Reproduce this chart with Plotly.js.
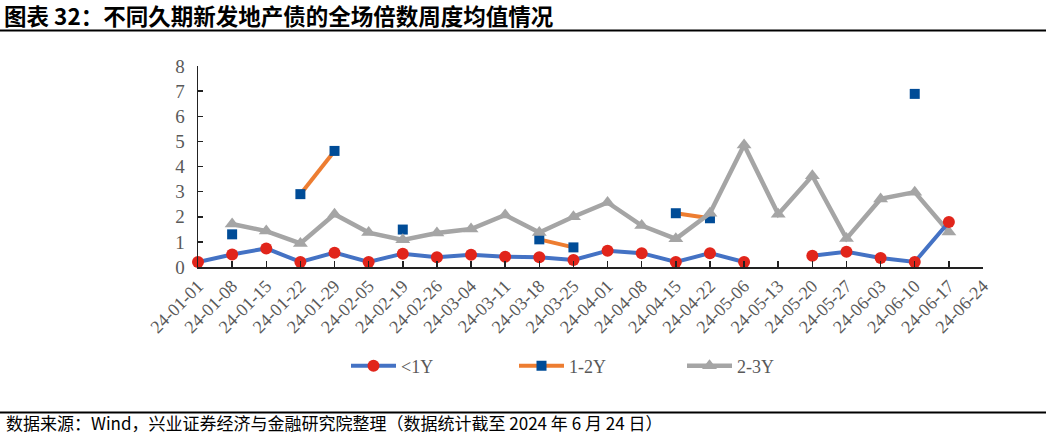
<!DOCTYPE html>
<html>
<head>
<meta charset="utf-8">
<script src="https://cdn.plot.ly/plotly-3.0.1.min.js"></script>
<style>
  html, body { margin: 0; padding: 0; background: #fff; }
  #chart { width: 1046px; height: 435px; }
</style>
</head>
<body>
<div id="chart"></div>
<script>
// weeks on the x axis
var weeks = ['24-01-01', '24-01-08', '24-01-15', '24-01-22', '24-01-29', '24-02-05',
  '24-02-19', '24-02-26', '24-03-04', '24-03-11', '24-03-18', '24-03-25',
  '24-04-01', '24-04-08', '24-04-15', '24-04-22', '24-05-06', '24-05-13',
  '24-05-20', '24-05-27', '24-06-03', '24-06-10', '24-06-17', '24-06-24']

// <1Y
var under1y = [0.20, 0.50, 0.74, 0.20, 0.57, 0.20, 0.53, 0.39, 0.49, 0.41, 0.39, 0.28,
  0.65, 0.55, 0.20, 0.55, 0.20, null, 0.45, 0.61, 0.36, 0.20, 1.79, null]

// 1-2Y
var y1to2 = [null, 1.30, null, 2.90, 4.62, null, 1.49, null, null, null, 1.10, 0.78,
  null, null, 2.14, 1.94, null, null, null, null, null, 6.89, null, null]

// 2-3Y
var y2to3 = [null, 1.71, 1.43, 0.94, 2.10, 1.37, 1.08, 1.35, 1.51, 2.07, 1.37, 2.00,
  2.57, 1.65, 1.12, 2.14, 4.86, 2.10, 3.63, 1.13, 2.71, 2.98, 1.39, null]

var title_text = '图表 32：不同久期新发地产债的全场倍数周度均值情况'
var source_text = '数据来源：Wind，兴业证券经济与金融研究院整理（数据统计截至 2024 年 6 月 24 日）'

var W = 1046, H = 435
var M = {l: 198, r: 63, t: 66, b: 168}

// pixel -> paper helpers for the decorations outside the plot
function px(x) { return (x - M.l) / (W - M.l - M.r) }
function py(y) { return 1 - (y - M.t) / (H - M.t - M.b) }

var serif = 'Liberation Serif, Times New Roman, serif'
var cjk = 'Noto Sans CJK SC, sans-serif'

var data = [
  {
    name: '1-2Y', x: weeks, y: y1to2, type: 'scatter', mode: 'lines+markers',
    line: {color: '#ED7D31', width: 4},
    marker: {symbol: 'square', size: 10, color: '#004C97'},
    cliponaxis: false, legendrank: 2
  },
  {
    name: '2-3Y', x: weeks, y: y2to3, type: 'scatter', mode: 'lines+markers',
    line: {color: '#A5A5A5', width: 4.5},
    marker: {symbol: 'triangle-up', size: 13, color: '#A5A5A5'},
    cliponaxis: false, legendrank: 3
  },
  {
    name: '<1Y', x: weeks, y: under1y, type: 'scatter', mode: 'lines+markers',
    line: {color: '#4472C4', width: 4},
    marker: {symbol: 'circle', size: 12, color: '#E1251B'},
    cliponaxis: false, legendrank: 1
  }
]

var layout = {
  width: W, height: H,
  margin: M,
  paper_bgcolor: '#fff', plot_bgcolor: '#fff',
  title: {
    text: '<b>' + title_text + '</b>',
    xref: 'container', yref: 'container',
    x: 4 / W, y: 1 - 17 / H, xanchor: 'left', yanchor: 'middle',
    font: {family: cjk, size: 22.5, color: '#000'}
  },
  showlegend: true,
  legend: {
    orientation: 'h', xref: 'container', yref: 'container',
    x: 346 / W, y: 1 - 366 / H, xanchor: 'left', yanchor: 'middle',
    font: {family: serif, size: 18, color: '#595959'},
    itemwidth: 45, entrywidth: 108, entrywidthmode: 'pixels',
    traceorder: 'normal'
  },
  xaxis: {
    type: 'category', range: [0, 23], autorange: false,
    showgrid: false, zeroline: false,
    showline: true, linecolor: '#222', linewidth: 1.5,
    ticks: 'inside', ticklen: 6, tickcolor: '#222', tickwidth: 1.5,
    tickangle: -45,
    tickfont: {family: serif, size: 18, color: '#595959'}
  },
  yaxis: {
    range: [0, 8], autorange: false, dtick: 1,
    showgrid: false, zeroline: false,
    showline: true, linecolor: '#222', linewidth: 1.5,
    ticks: 'inside', ticklen: 5, tickcolor: '#222', tickwidth: 1.5,
    ticklabelstandoff: 8,
    tickfont: {family: serif, size: 19, color: '#595959'}
  },
  shapes: [
    {type: 'line', xref: 'paper', yref: 'paper', x0: px(0), x1: px(W), y0: py(30.5), y1: py(30.5),
      line: {color: '#000', width: 2.2}},
    {type: 'line', xref: 'paper', yref: 'paper', x0: px(0), x1: px(W), y0: py(412.5), y1: py(412.5),
      line: {color: '#000', width: 2.2}}
  ],
  annotations: [
    {text: source_text, xref: 'paper', yref: 'paper',
      x: px(4), y: py(422.5), xanchor: 'left', yanchor: 'middle', showarrow: false,
      font: {family: cjk, size: 17, color: '#000'}}
  ]
}

Plotly.newPlot('chart', data, layout, {displayModeBar: false, staticPlot: true})
</script>
</body>
</html>
